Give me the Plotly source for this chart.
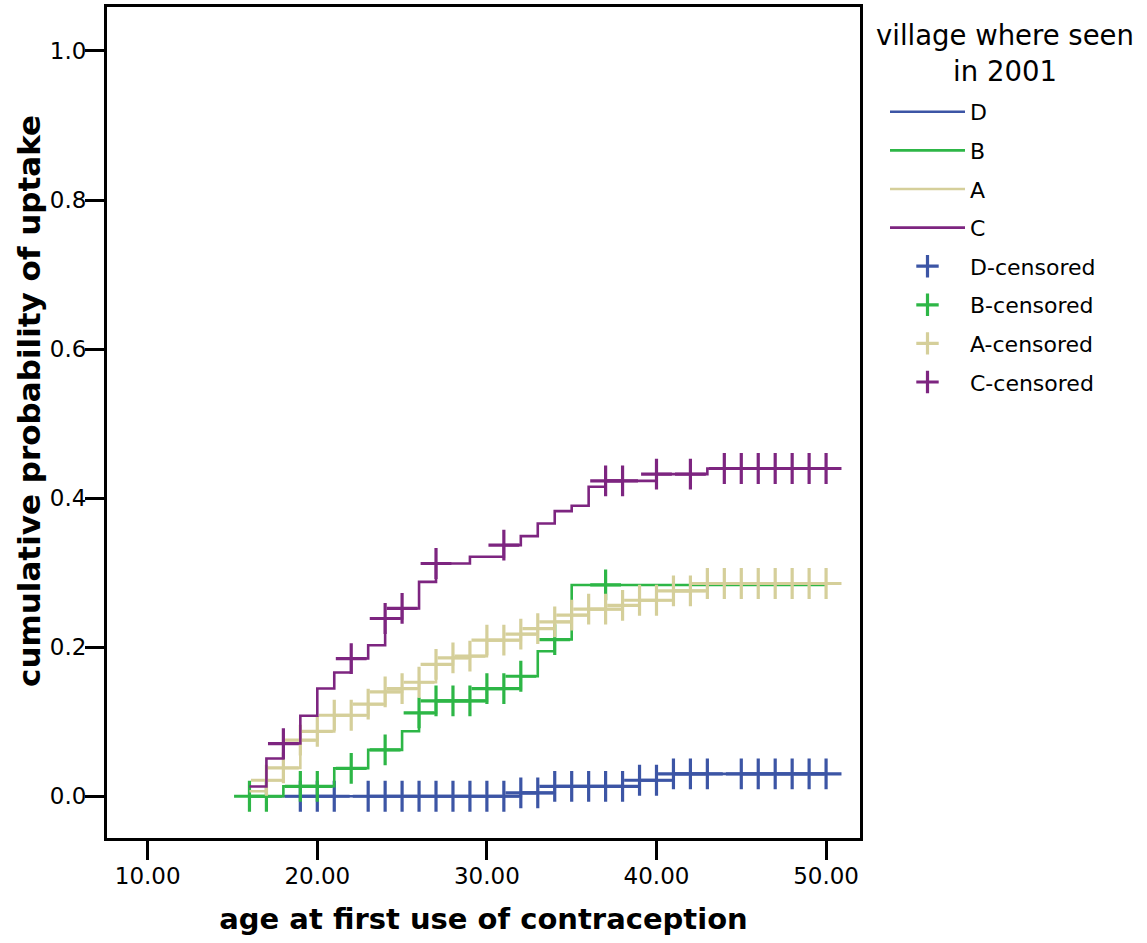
import plotly.graph_objects as go

# ---------------- data ----------------
groups = ["D", "B", "A", "C"]
group_colors = ["#3C55A5", "#2DB646", "#D5CF9A", "#7D2580"]

d_event_ages = [16, 32, 34, 39, 41]
d_event_probs = [0.0, 0.0045, 0.0134, 0.0215, 0.0300]
d_censor_ages = [19, 20, 21, 23, 24, 25, 26, 27, 28, 29, 30, 31, 32, 33, 34, 35, 36,
                 37, 38, 39, 40, 41, 42, 43, 45, 46, 47, 48, 49, 50]

b_event_ages = [16, 18, 21, 23, 25, 26, 27, 30, 32, 33, 34, 35]
b_event_probs = [0.0, 0.0134, 0.0375, 0.0622, 0.0872, 0.1118, 0.1280, 0.1445,
                 0.1610, 0.1946, 0.2103, 0.2835]
b_censor_ages = [16, 17, 19, 20, 22, 24, 26, 27, 28, 29, 30, 31, 32, 34, 37]

a_event_ages = [16, 17, 18, 19, 20, 21, 23, 24, 25, 26, 27, 28, 29, 30, 32, 33, 34,
                35, 36, 38, 39, 41, 43]
a_event_probs = [0.0067, 0.0215, 0.0380, 0.0752, 0.0870, 0.1087, 0.1235, 0.1400,
                 0.1445, 0.1530, 0.1770, 0.1857, 0.1880, 0.2094, 0.2175, 0.2250,
                 0.2340, 0.2430, 0.2510, 0.2560, 0.2630, 0.2756, 0.2855]
a_censor_ages = [17, 18, 19, 20, 21, 22, 23, 24, 25, 26, 27, 28, 29, 30, 31, 32, 33,
                 34, 35, 36, 37, 38, 39, 40, 41, 42, 43, 44, 45, 46, 47, 48, 49, 50]

c_event_ages = [16, 17, 18, 19, 20, 21, 22, 23, 24, 25, 26, 27, 29, 31, 32, 33, 34,
                35, 36, 37, 40, 43]
c_event_probs = [0.0132, 0.0506, 0.0707, 0.1080, 0.1445, 0.1660, 0.1848, 0.2027,
                 0.2385, 0.2520, 0.2877, 0.3123, 0.3213, 0.3370, 0.3490, 0.3660,
                 0.3826, 0.3897, 0.4152, 0.4232, 0.4322, 0.4398]
c_censor_ages = [18, 22, 24, 25, 27, 31, 37, 38, 40, 42, 44, 45, 46, 47, 48, 49, 50]

end_age = 50

x_ticks = [10, 20, 30, 40, 50]
y_ticks = [0.0, 0.2, 0.4, 0.6, 0.8, 1.0]

x_title = "age at first use of contraception"
y_title = "cumulative probability of uptake"
legend_title = "village where seen<br>in 2001"

event_ages = [d_event_ages, b_event_ages, a_event_ages, c_event_ages]
event_probs = [d_event_probs, b_event_probs, a_event_probs, c_event_probs]
censor_ages = [d_censor_ages, b_censor_ages, a_censor_ages, c_censor_ages]


def step_value(ages, probs, t):
    v = 0.0
    for a, p in zip(ages, probs):
        if a <= t:
            v = p
    return v


FONT = "DejaVu Sans, Arial, sans-serif"
W, H = 1147, 943
ML, MR, MT, MB = 107, 287, 7, 105
PW, PH = W - ML - MR, H - MT - MB


def px_x(p):
    return (p - ML) / PW


def px_y(p):
    return 1 - (p - MT) / PH


fig = go.Figure()

for i, g in enumerate(groups):
    ages = event_ages[i]
    probs = event_probs[i]
    col = group_colors[i]
    fig.add_trace(go.Scatter(
        x=ages + [end_age], y=probs + [probs[-1]],
        mode="lines", line=dict(color=col, width=2.6, shape="hv"),
        name=g, legendrank=100 + i, legendgroup="l" + g,
    ))
    cens = censor_ages[i]
    fig.add_trace(go.Scatter(
        x=cens, y=[step_value(ages, probs, t) for t in cens],
        mode="markers",
        marker=dict(symbol="cross-thin", size=22, color=col,
                    line=dict(color=col, width=3.2)),
        name=g + "-censored", legendrank=200 + i, legendgroup="c" + g,
    ))

fig.update_layout(
    width=W, height=H,
    margin=dict(l=ML, r=MR, t=MT, b=MB),
    paper_bgcolor="white", plot_bgcolor="white",
    font=dict(family=FONT, color="black"),
    showlegend=True,
    legend=dict(
        x=px_x(885), xanchor="left",
        y=px_y(91), yanchor="top",
        font=dict(size=22, family=FONT, color="black"),
        itemwidth=75,
        tracegroupgap=7,
        bgcolor="rgba(0,0,0,0)",
    ),
    xaxis=dict(
        range=[7.6, 52.0], tickvals=x_ticks, tickformat=".2f",
        ticks="outside", ticklen=19, tickwidth=3, tickcolor="black",
        showline=True, linewidth=3, linecolor="black", mirror=True,
        showgrid=False, zeroline=False, automargin=False,
        ticklabelstandoff=-4,
        tickfont=dict(size=23, family=FONT, color="black"),
        title=dict(text="<b>" + x_title + "</b>", standoff=22,
                   font=dict(size=29, family=FONT, color="black")),
    ),
    yaxis=dict(
        range=[-0.056, 1.059], tickvals=y_ticks, tickformat=".1f",
        ticks="outside", ticklen=19, tickwidth=3, tickcolor="black",
        showline=True, linewidth=3, linecolor="black", mirror=True,
        showgrid=False, zeroline=False, automargin=False,
        ticklabelstandoff=-6,
        tickfont=dict(size=23, family=FONT, color="black"),
    ),
    annotations=[
        dict(text="<b>" + y_title + "</b>", textangle=-90,
             xref="paper", yref="paper", x=px_x(29), y=px_y(401),
             xanchor="center", yanchor="middle", showarrow=False,
             font=dict(size=31, family=FONT, color="black")),
        dict(text=legend_title, align="center",
             xref="paper", yref="paper", x=px_x(1005), y=px_y(17),
             xanchor="center", yanchor="top", showarrow=False,
             font=dict(size=27.5, family=FONT, color="black")),
    ],
)

fig.write_html("out.html", config={"displayModeBar": False},
               post_script="document.body.style.margin='0px';")
